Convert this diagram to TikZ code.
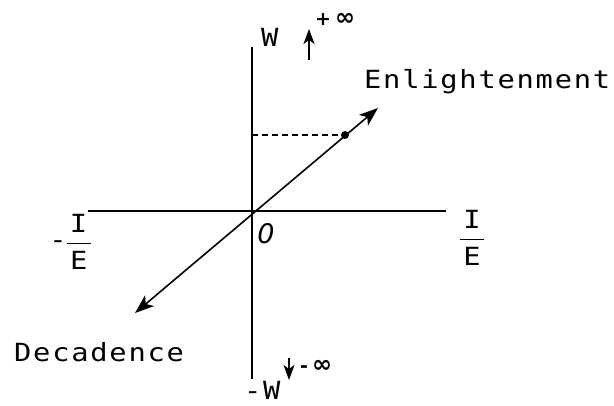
\documentclass[tikz,border=0pt]{standalone}
\usepackage{fontspec}
\usetikzlibrary{arrows.meta, positioning}
\newfontfamily\plotfont[LetterSpace=7, FakeStretch=1.15]{DejaVu Sans Mono}
\newfontfamily\zerofont{DejaVu Sans}
\newcommand\ratio[2]{\shortstack{#1\\[7pt]\rule{24pt}{1.6pt}\\[4pt]#2}}

\begin{document}
\begin{tikzpicture}[x=1pt, y=-1pt,
        axis/.style={line width=1.8pt},
        lbl/.style={font=\plotfont\fontsize{25}{28}\selectfont, inner sep=0pt},
        sml/.style={font=\zerofont\bfseries\fontsize{24}{26}\selectfont, inner sep=0pt},
        bigarrow/.style={{Stealth[length=19pt, width=14pt, inset=5pt]}-{Stealth[length=19pt, width=14pt, inset=5pt]}, line width=1.6pt},
        arrow/.style={-{Stealth[length=15pt, width=11pt, inset=4pt]}, line width=1.6pt}
    ]
        \useasboundingbox (0,0) rectangle (614,406);

        % Axes
        \coordinate (O) at (252,211);
        \coordinate (ytop) at (252,47);
        \coordinate (ybot) at (252,379);
        \coordinate (xlft) at (88,211);
        \coordinate (xrgt) at (446,211);
        \draw[axis] (ytop) -- (ybot);
        \draw[axis] (xlft) -- (xrgt);

        % Diagonal
        \coordinate (decend) at (135,313);
        \coordinate (enlend) at (378,108);
        \draw[bigarrow] (decend) -- (enlend);
        \node[circle, fill, inner sep=0pt, minimum size=8pt] (pt) at (345,135) {};
        \draw[dashed, dash pattern=on 6pt off 4pt, line width=1.2pt] (ytop |- pt) -- (pt);

        % Labels
        \node[lbl, anchor=base west] (enl) at (364,89) {Enlightenment};
        \node[lbl, anchor=base west] (dec) at (14,362) {Decadence};
        \node[lbl, anchor=base west] (wtop) at (261,47) {W};
        \node[lbl, anchor=base west] (wbot) at (244,400) {-W};
        \node[lbl, font=\zerofont\itshape\fontsize{27}{29}\selectfont] (zero) at (266,234) {0};
        \node[lbl] (irgt) at (472,238) {\ratio{I}{E}};
        \node[lbl] (ilft) at (70,242) {\raisebox{21pt}{-}\ratio{I}{E}};

        % Infinity
        \coordinate (uptail) at (309,60);
        \coordinate (uptip) at (309,29);
        \draw[arrow] (uptail) -- (uptip);
        \node[sml, anchor=west] (pinf) at (315,19) {{\fontsize{19}{20}\selectfont+}\,∞};
        \coordinate (dntail) at (289,358);
        \coordinate (dntip) at (289,380);
        \draw[arrow] (dntail) -- (dntip);
        \node[sml, anchor=west] (minf) at (300,366) {{\fontsize{19}{20}\selectfont-}\,∞};
    \end{tikzpicture}
\end{document}
